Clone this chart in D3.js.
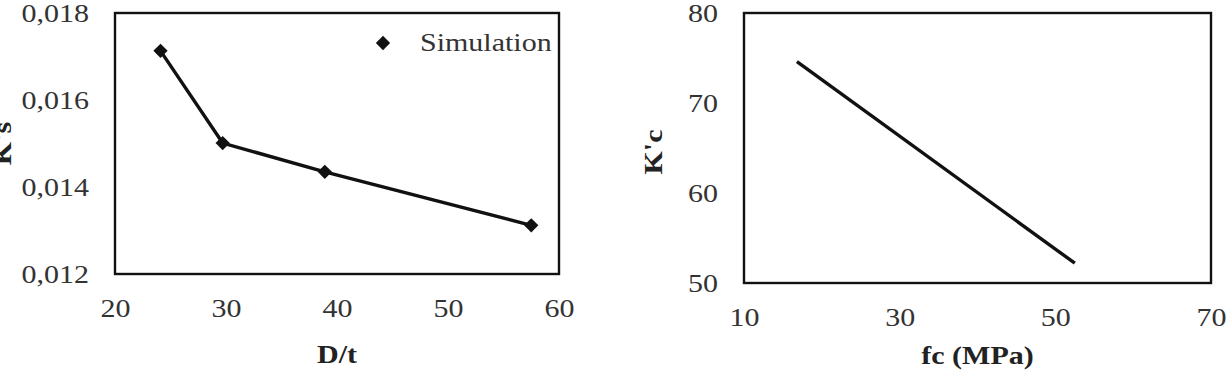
<!DOCTYPE html>
<html>
<head>
<meta charset="utf-8">
<script src="https://cdn.jsdelivr.net/npm/d3@7"></script>
<style>
  body { margin: 0; background: #fff; }
  svg text { font-family: "Liberation Serif", "Times New Roman", serif; }
</style>
</head>
<body>
<div id="chart"></div>
<script>
// left panel: K's vs D/t
const dtValues = [24.1, 29.7, 38.9, 57.5];
const ksValues = [0.01713, 0.01501, 0.01435, 0.01312];
const ksTicks = [0.012, 0.014, 0.016, 0.018];
const dtTicks = [20, 30, 40, 50, 60];

// right panel: K'c vs fc
const fcValues = [16.8, 52.5];
const kcValues = [74.6, 52.2];
const kcTicks = [50, 60, 70, 80];
const fcTicks = [10, 30, 50, 70];

const width = 1227;
const height = 374;
const fontSize = "25px";
const stretch = "scale(1.2,1)"; // the original text is wide, like a stretched scan

const svg = d3.select("#chart")
  .append("svg")
  .attr("width", width)
  .attr("height", height);

const comma = d3.formatLocale({ decimal: ",", thousands: ".", grouping: [3], currency: ["", ""] });

function panel(opts) {
  const { x0, x1, y0, y1 } = opts;
  const x = d3.scaleLinear().domain(opts.xDomain).range([x0, x1]);
  const y = d3.scaleLinear().domain(opts.yDomain).range([y1, y0]);
  const g = svg.append("g");

  // tick labels
  g.append("g")
    .attr("transform", `translate(0,${y1 + 22})`)
    .call(d3.axisBottom(x).tickValues(opts.xTicks).tickSize(0).tickFormat(d3.format("d")))
    .call(a => a.select(".domain").remove())
    .selectAll("text")
    .style("font-size", fontSize)
    .attr("fill", "#333")
    .attr("transform", stretch);

  g.append("g")
    .attr("transform", `translate(${x0 - 26},0)`)
    .call(d3.axisLeft(y).tickValues(opts.yTicks).tickSize(0).tickPadding(0).tickFormat(opts.yFormat))
    .call(a => a.select(".domain").remove())
    .selectAll("text")
    .style("font-size", fontSize)
    .attr("dy", "0.34em")
    .attr("fill", "#333")
    .attr("transform", stretch);

  // frame
  g.append("rect")
    .attr("x", x0).attr("y", y0)
    .attr("width", x1 - x0).attr("height", y1 - y0)
    .attr("fill", "none")
    .attr("stroke", "#111")
    .attr("stroke-width", 2.4);

  // axis titles
  g.append("text")
    .attr("transform", `translate(${(x0 + x1) / 2},${opts.xTitleY}) ${stretch}`)
    .attr("text-anchor", "middle")
    .style("font-size", fontSize)
    .style("font-weight", "bold")
    .attr("fill", "#222")
    .text(opts.xTitle);

  g.append("text")
    .attr("transform", `translate(${opts.yTitleX},${(y0 + y1) / 2 + opts.yTitleShift}) rotate(-90) ${stretch}`)
    .attr("text-anchor", "middle")
    .attr("dy", "0.35em")
    .style("font-size", fontSize)
    .style("font-weight", "bold")
    .attr("fill", "#222")
    .text(opts.yTitle);

  const pts = opts.xs.map((v, i) => [v, opts.ys[i]]);
  g.append("path")
    .datum(pts)
    .attr("fill", "none")
    .attr("stroke", "#111")
    .attr("stroke-width", 3.4)
    .attr("d", d3.line().x(d => x(d[0])).y(d => y(d[1])));

  return { g, x, y, pts };
}

const left = panel({
  x0: 115, x1: 559, y0: 13, y1: 274,
  xDomain: [20, 60], yDomain: [0.012, 0.018],
  xTicks: dtTicks, yTicks: ksTicks,
  xs: dtValues, ys: ksValues,
  yFormat: comma.format(".3f"),
  xTitle: "D/t", xTitleY: 363,
  yTitle: "K's", yTitleX: 2, yTitleShift: 0
});

const diamond = d3.symbol().type(d3.symbolDiamond2).size(130);

left.g.selectAll(".pt")
  .data(left.pts)
  .enter().append("path")
  .attr("class", "pt")
  .attr("transform", d => `translate(${left.x(d[0])},${left.y(d[1])})`)
  .attr("d", diamond)
  .attr("fill", "#111");

// legend
const leg = left.g.append("g").attr("transform", "translate(383,43)");
leg.append("path").attr("d", diamond).attr("fill", "#111");
leg.append("text")
  .attr("transform", `translate(37,0) ${stretch}`)
  .attr("dy", "0.33em")
  .style("font-size", fontSize)
  .attr("fill", "#333")
  .text("Simulation");

panel({
  x0: 744, x1: 1211, y0: 13, y1: 283,
  xDomain: [10, 70], yDomain: [50, 80],
  xTicks: fcTicks, yTicks: kcTicks,
  xs: fcValues, ys: kcValues,
  yFormat: d3.format("d"),
  xTitle: "fc (MPa)", xTitleY: 364,
  yTitle: "K'c", yTitleX: 653, yTitleShift: 4
});
</script>
</body>
</html>
